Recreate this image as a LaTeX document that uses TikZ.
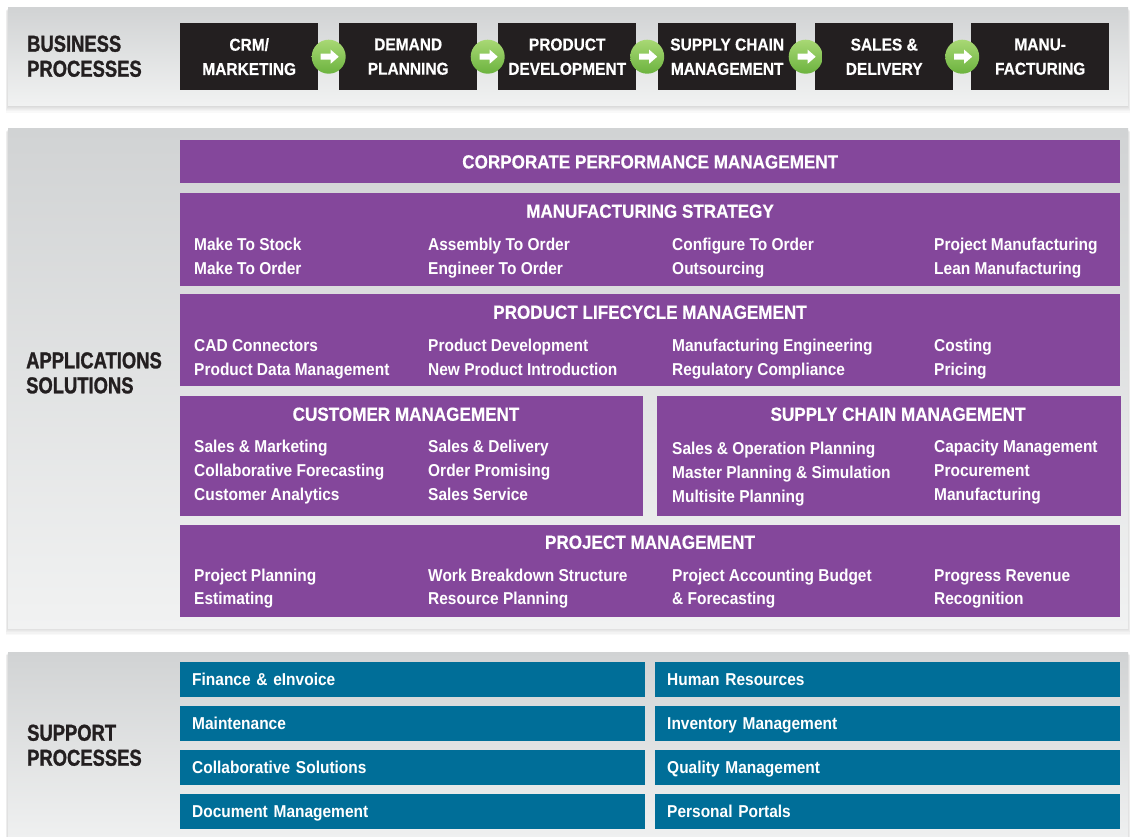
\documentclass[tikz,border=0pt]{standalone}
\usepackage{fontspec}
\setmainfont{Liberation Sans}[FakeStretch=0.9]
\newfontfamily\headfont{Liberation Sans Bold}[FakeStretch=0.9,FakeBold=0.5]
\newfontfamily\sidefont{Liberation Sans Bold}[FakeStretch=0.8,FakeBold=1.2]
\usetikzlibrary{calc}

\definecolor{appviolet}{HTML}{84479B}
\definecolor{supblue}{HTML}{006E98}
\definecolor{procblack}{HTML}{231F20}
\definecolor{paneltop}{HTML}{D1D3D4}
\definecolor{panelbot}{HTML}{F1F2F2}
\definecolor{arrowlight}{HTML}{A8D874}
\definecolor{arrowdark}{HTML}{6CB33F}

\tikzset{
  procbox/.style={fill=procblack, text=white, anchor=north west, minimum width=138pt, minimum height=67pt,
    align=center, inner sep=0pt, font=\headfont\fontsize{17.2}{24.3}\selectfont},
  nextarrow/.style={circle, minimum size=34pt, inner sep=0pt, top color=arrowlight, bottom color=arrowdark},
  appbox/.style={fill=appviolet, anchor=north west, inner sep=0pt},
  apptitle/.style={text=white, inner sep=0pt, text height=13.5pt, text depth=0pt, font=\headfont\fontsize{19}{22}\selectfont},
  appitem/.style={text=white, anchor=west, inner sep=0pt, text height=12.3pt, text depth=0pt, font=\bfseries\fontsize{17.2}{22}\selectfont},
  supbox/.style={fill=supblue, text=white, anchor=north west, minimum width=465pt, minimum height=35pt, text width=441pt,
    align=left, inner xsep=12pt, inner ysep=0pt, text height=12.3pt, text depth=0pt, font=\bfseries\fontsize{17.2}{22}\selectfont},
  sidelabel/.style={text=procblack, anchor=base west, align=left, inner sep=0pt, font=\sidefont\fontsize{23}{25}\selectfont}
}

\begin{document}
\begin{tikzpicture}[x=1pt,y=-1pt]
\useasboundingbox (0,0) rectangle (1132,837);
\fill[white] (0,0) rectangle (1132,837);

% grey bands with a soft shadow
\foreach \top/\bot in {8/106,129/628,652/850}{
  \foreach \d in {1,...,6}
    \fill[black,opacity=0.022] (8-\d*0.4,\top+\d*0.5) rectangle (1128+\d*0.4,\bot+\d*1.1);
  \shade[top color=paneltop,bottom color=panelbot] (8,\top) rectangle (1128,\bot);
}

% business processes
\node[sidelabel] (bizlabel) at (27,76.7) {BUSINESS\\PROCESSES};
\foreach \x/\t [count=\i] in {180/{CRM/\\MARKETING},339/{DEMAND\\PLANNING},498/{PRODUCT\\DEVELOPMENT},
    658/{SUPPLY CHAIN\\MANAGEMENT},815/{SALES \&\\DELIVERY},971/{MANU-\\FACTURING}}
  \node[procbox] (proc\i) at (\x,23) {\t};
\foreach \i [evaluate=\i as \j using int(\i+1)] in {1,...,5}{
  \node[nextarrow] (arr\i) at ($(proc\i.east)!0.5!(proc\j.west)$) {};
  \fill[white,shift={(arr\i.center)}] (-8,-3) -- (2,-3) -- (2,-7) -- (10,0) -- (2,7) -- (2,3) -- (-8,3) -- cycle;
}

% applications solutions
\node[sidelabel] (applabel) at (26,393.3) {APPLICATIONS\\SOLUTIONS};

\node[appbox,minimum width=940pt,minimum height=43pt] (cpm) at (180,140) {};
\node[apptitle] (cpmtitle) at (cpm.center) {CORPORATE PERFORMANCE MANAGEMENT};

\node[appbox,minimum width=940pt,minimum height=93pt] (ms) at (180,193) {};
\node[apptitle] (mstitle) at (650,211) {MANUFACTURING STRATEGY};
\foreach \x/\y/\t [count=\i] in {194/244/Make To Stock,194/268/Make To Order,428/244/Assembly To Order,
    428/268/Engineer To Order,672/244/Configure To Order,672/268/Outsourcing,
    934/244/Project Manufacturing,934/268/Lean Manufacturing}
  \node[appitem] (ms\i) at (\x,\y) {\t};

\node[appbox,minimum width=940pt,minimum height=92pt] (plm) at (180,294) {};
\node[apptitle] (plmtitle) at (650,312) {PRODUCT LIFECYCLE MANAGEMENT};
\foreach \x/\y/\t [count=\i] in {194/345/CAD Connectors,194/369/Product Data Management,428/345/Product Development,
    428/369/New Product Introduction,672/345/Manufacturing Engineering,672/369/Regulatory Compliance,
    934/345/Costing,934/369/Pricing}
  \node[appitem] (plm\i) at (\x,\y) {\t};

\node[appbox,minimum width=463pt,minimum height=120pt] (cm) at (180,396) {};
\node[apptitle] (cmtitle) at (406,414) {CUSTOMER MANAGEMENT};
\foreach \x/\y/\t [count=\i] in {194/446/Sales \& Marketing,194/470/Collaborative Forecasting,194/494/Customer Analytics,
    428/446/Sales \& Delivery,428/470/Order Promising,428/494/Sales Service}
  \node[appitem] (cm\i) at (\x,\y) {\t};

\node[appbox,minimum width=464pt,minimum height=120pt] (scm) at (657,396) {};
\node[apptitle] (scmtitle) at (898,414) {SUPPLY CHAIN MANAGEMENT};
\foreach \x/\y/\t [count=\i] in {672/448/Sales \& Operation Planning,672/472/Master Planning \& Simulation,672/496/Multisite Planning,
    934/446/Capacity Management,934/470/Procurement,934/494/Manufacturing}
  \node[appitem] (scm\i) at (\x,\y) {\t};

\node[appbox,minimum width=940pt,minimum height=92pt] (pm) at (180,525) {};
\node[apptitle] (pmtitle) at (650,542) {PROJECT MANAGEMENT};
\foreach \x/\y/\t [count=\i] in {194/575/Project Planning,194/598/Estimating,428/575/Work Breakdown Structure,
    428/598/Resource Planning,672/575/Project Accounting Budget,672/598/\& Forecasting,
    934/575/Progress Revenue,934/598/Recognition}
  \node[appitem] (pm\i) at (\x,\y) {\t};

% support processes
\node[sidelabel] (suplabel) at (27,765.7) {SUPPORT\\PROCESSES};
\foreach \t/\u [count=\i] in {Finance \& eInvoice/Human Resources,Maintenance/Inventory Management,
    Collaborative Solutions/Quality Management,Document Management/Personal Portals}{
  \node[supbox] (supl\i) at (180,618+44*\i) {\t};
  \node[supbox] (supr\i) at (655,618+44*\i) {\u};
}
\end{tikzpicture}
\end{document}
